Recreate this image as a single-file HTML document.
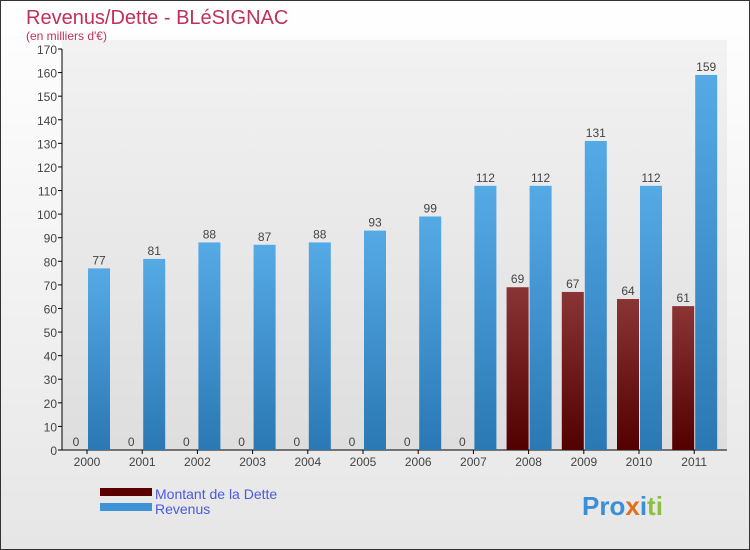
<!DOCTYPE html>
<html><head><meta charset="utf-8"><style>
html,body{margin:0;padding:0;width:750px;height:550px;overflow:hidden;font-family:"Liberation Sans",sans-serif}
</style></head><body>
<svg width="750" height="550" xmlns="http://www.w3.org/2000/svg">
<defs>
<linearGradient id="bg" x1="0" y1="0" x2="0" y2="1"><stop offset="0" stop-color="#ffffff"/><stop offset="1" stop-color="#e6e6e6"/></linearGradient>
<linearGradient id="plotbg" x1="0" y1="0" x2="0" y2="1"><stop offset="0" stop-color="#f2f2f2"/><stop offset="1" stop-color="#dedede"/></linearGradient>
<linearGradient id="gb" x1="0" y1="0" x2="0" y2="1"><stop offset="0" stop-color="#55aae6"/><stop offset="1" stop-color="#2a78b4"/></linearGradient>
<linearGradient id="gr" x1="0" y1="0" x2="0" y2="1"><stop offset="0" stop-color="#8a3436"/><stop offset="1" stop-color="#520000"/></linearGradient>
</defs>
<rect x="0.5" y="0.5" width="749" height="549" fill="url(#bg)" stroke="#333"/>
<rect x="62" y="40" width="665" height="410" fill="url(#plotbg)"/>
<text x="26" y="24" font-size="20" fill="#c0305a">Revenus/Dette - BLéSIGNAC</text>
<text x="26" y="40" font-size="12" fill="#c0305a">(en milliers d'€)</text>
<g id="axes"></g>
<g id="bars"></g>
<rect x="100" y="488" width="52" height="8" fill="#5a0000"/>
<text x="155" y="499" font-size="14" fill="#4a5ae0">Montant de la Dette</text>
<rect x="100" y="503" width="52" height="8" fill="#3d93d8"/>
<text x="155" y="514" font-size="14" fill="#4a5ae0">Revenus</text>
<text x="582" y="515" font-size="26" font-weight="bold"><tspan fill="#3a8fd8">Pro</tspan><tspan fill="#e07020">x</tspan><tspan fill="#3a8fd8">i</tspan><tspan fill="#8cc040">ti</tspan></text>
</svg>
<script>
const years=["2000","2001","2002","2003","2004","2005","2006","2007","2008","2009","2010","2011"];
const dette=[0,0,0,0,0,0,0,0,69,67,64,61];
const revenus=[77,81,88,87,88,93,99,112,112,131,112,159];
const yTicks=[0,10,20,30,40,50,60,70,80,90,100,110,120,130,140,150,160,170];
const NS="http://www.w3.org/2000/svg";
const y0=450,y1=49,maxV=170,x0=87,step=55.2,bw=22;
const Y=v=>y0-(y0-y1)*v/maxV;
const X=i=>x0+i*step;
function mk(t,a,p){const e=document.createElementNS(NS,t);for(const k in a)e.setAttribute(k,a[k]);p.appendChild(e);return e;}
const ax=document.getElementById('axes'),bs=document.getElementById('bars');
yTicks.forEach(v=>{
 const l=mk('line',{x1:58,x2:62,y1:Y(v),y2:Y(v),stroke:'#000'},ax);
 
 
 const t=mk('text',{x:57,y:Y(v)+5,'text-anchor':'end','font-size':12,fill:'#444'},ax);
 t.textContent=v;
 
 
});
const ya=mk('line',{x1:62,x2:62,y1:Y(170),y2:y0,stroke:'#000'},ax);


const xa=mk('line',{x1:62,x2:727,y1:y0,y2:y0,stroke:'#000'},ax);


years.forEach((yr,i)=>{
 const x=X(i);
 const tk=mk('line',{x1:x,x2:x,y1:y0,y2:y0+4,stroke:'#000'},ax);
 
 
 const t=mk('text',{x:x,y:y0+16,'text-anchor':'middle','font-size':12,fill:'#444'},ax);
 t.textContent=yr;
 
 
 const d=dette[i],r=revenus[i];
 const bd=mk('rect',{x:x-bw,y:Y(d),width:bw,height:y0-Y(d),fill:'url(#gr)'},bs);
 
 
 const ld=mk('text',{x:x-bw/2,y:Y(d)-4,'text-anchor':'middle','font-size':12,fill:'#444'},bs);
 ld.textContent=d;
 
 
 const br=mk('rect',{x:x+1,y:Y(r),width:bw,height:y0-Y(r),fill:'url(#gb)'},bs);
 
 
 const lr=mk('text',{x:x+1+bw/2,y:Y(r)-4,'text-anchor':'middle','font-size':12,fill:'#444'},bs);
 lr.textContent=r;
 
 
});
</script>
</body></html>
